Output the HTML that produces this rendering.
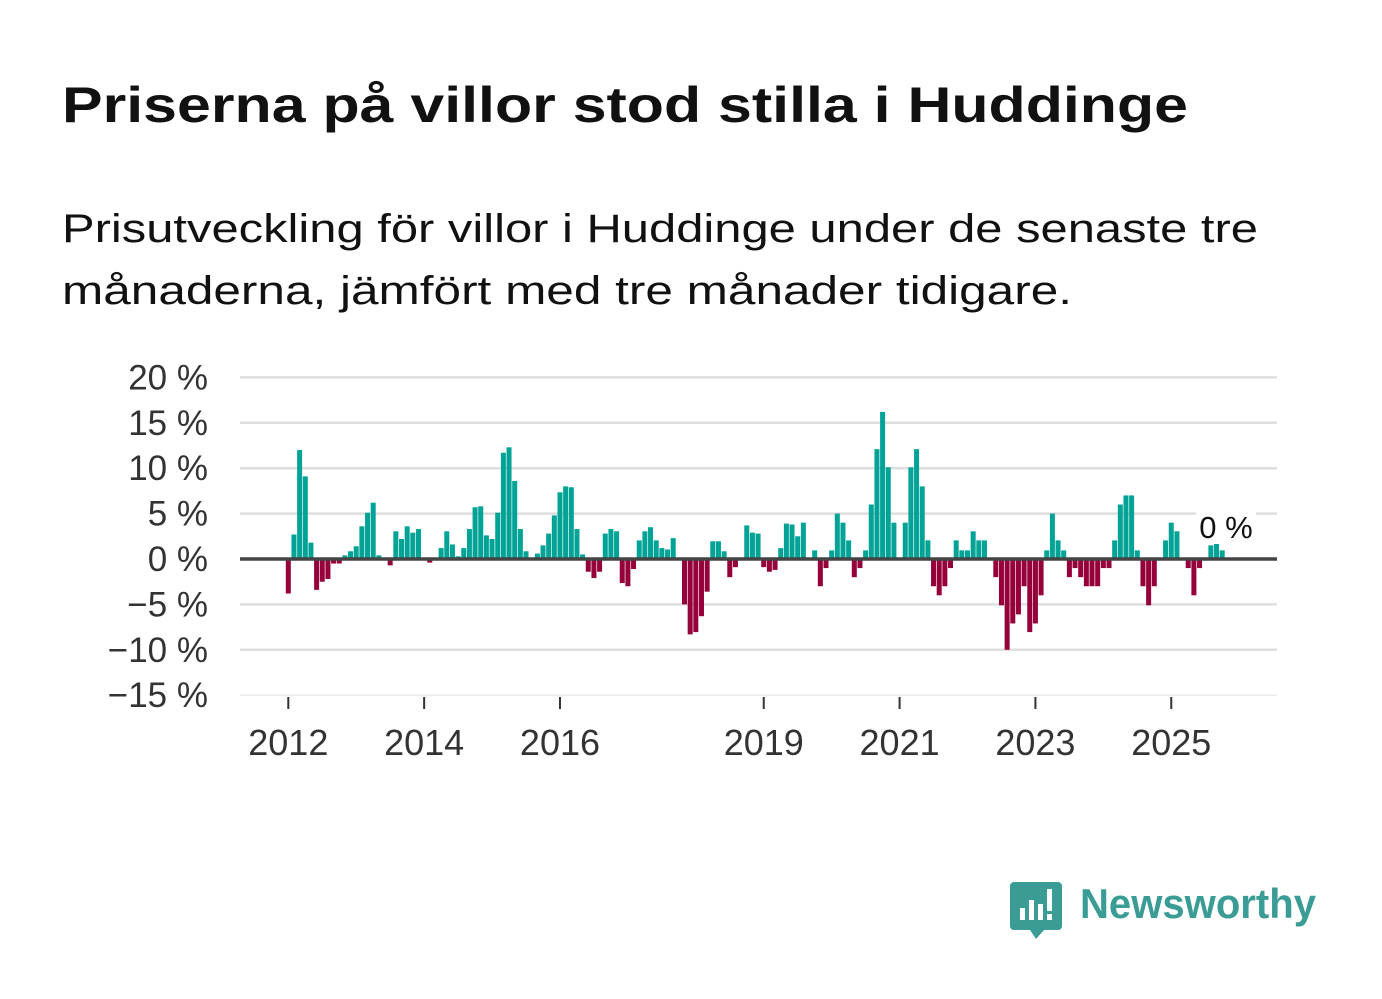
<!DOCTYPE html>
<html><head><meta charset="utf-8"><style>
html,body{margin:0;padding:0;background:#fff;width:1382px;height:999px;overflow:hidden}
svg{display:block}
text{font-family:"Liberation Sans","DejaVu Sans",sans-serif}
</style></head><body>
<svg id="chart" width="1382" height="999" viewBox="0 0 1382 999">
<text x="62" y="122" font-size="50" font-weight="bold" fill="#111" textLength="1126" lengthAdjust="spacingAndGlyphs">Priserna på villor stod stilla i Huddinge</text>
<text x="62" y="242" font-size="40" fill="#111" textLength="1196" lengthAdjust="spacingAndGlyphs">Prisutveckling för villor i Huddinge under de senaste tre</text>
<text x="62" y="304" font-size="40" fill="#111" textLength="1010" lengthAdjust="spacingAndGlyphs">månaderna, jämfört med tre månader tidigare.</text>
<g id="grid"></g>
<g id="yaxis"></g>
<g id="xaxis"></g>
<g id="bars"></g>
<g>
<rect x="1196" y="510" width="60" height="34" fill="#fff"/>
<text x="1226" y="538" font-size="31" fill="#111" text-anchor="middle">0 %</text>
</g>
<g>
<path d="M1014 882 h44 a4 4 0 0 1 4 4 v40 a4 4 0 0 1 -4 4 h-14 l-8 9 l-6 -9 h-16 a4 4 0 0 1 -4 -4 v-40 a4 4 0 0 1 4 -4z" fill="#3a9c94"/>
<rect x="1020" y="908" width="5" height="12" fill="#fff"/>
<rect x="1029" y="900" width="5" height="20" fill="#fff"/>
<rect x="1038" y="904" width="5" height="16" fill="#fff"/>
<rect x="1047" y="889" width="5" height="22" fill="#fff"/>
<rect x="1047" y="914" width="5" height="6" fill="#fff"/>
<text x="1080" y="918" font-size="42" font-weight="bold" fill="#3a9c94" textLength="236" lengthAdjust="spacingAndGlyphs">Newsworthy</text>
</g>
</svg>
<script>
const yTicks=[20,15,10,5,0,-5,-10,-15];
const yTickLabels=["20 %","15 %","10 %","5 %","0 %","\u22125 %","\u221210 %","\u221215 %"];
const xTickYears=[2012,2014,2016,2019,2021,2023,2025];
const startYear=2012;
const values=[-3.8,2.7,12,9.1,1.8,-3.4,-2.5,-2.2,-0.5,-0.5,0.4,0.85,
1.4,3.6,5.1,6.2,0.4,0,-0.7,3.05,2.2,3.6,2.9,3.3,
0,-0.4,0,1.2,3.05,1.6,0.3,1.2,3.3,5.7,5.8,2.6,
2.2,5.1,11.7,12.3,8.6,3.3,0.85,0,0.6,1.5,2.8,4.8,
7.35,8.0,7.9,3.3,0.5,-1.4,-2.1,-1.4,2.8,3.3,3.05,-2.65,
-3.0,-1.1,2.05,3.05,3.5,2.05,1.2,1.05,2.3,0,-5.0,-8.3,
-8.05,-6.3,-3.6,1.95,1.95,0.85,-2.0,-0.9,0,3.7,2.9,2.8,
-0.9,-1.4,-1.2,1.2,3.9,3.8,2.5,4.0,0,0.95,-3.0,-1.0,
0.95,5.0,4.0,2.05,-2.0,-1.0,0.95,6.0,12.1,16.2,10.1,4.0,
0,4.0,10.1,12.1,8.0,2.05,-3.0,-4.0,-3.0,-1.0,2.05,0.95,
0.95,3.05,2.05,2.05,0,-2.0,-5.1,-10.0,-7.1,-6.1,-3.0,-8.05,
-7.1,-4.0,0.95,5.0,2.05,0.95,-2.0,-1.0,-2.0,-3.0,-3.0,-3.0,
-1.0,-1.0,2.05,6.0,7.0,7.0,0.95,-3.0,-5.1,-3.0,0,2.05,
4.0,3.05,0,-1.0,-4.0,-1.0,0,1.5,1.7,0.95];
const NS="http://www.w3.org/2000/svg";
const y=v=>559-v*9.08;
const x=i=>288.3+i*5.66;
const grid=document.getElementById('grid'),ya=document.getElementById('yaxis'),xa=document.getElementById('xaxis'),bars=document.getElementById('bars');
yTicks.forEach((t,k)=>{
  if(t!==0){const l=document.createElementNS(NS,'line');
  
  
  l.setAttribute('x1',240);l.setAttribute('x2',1277);l.setAttribute('y1',y(t));l.setAttribute('y2',y(t));
  l.setAttribute('stroke',t===-15?'#ececec':'#dedede');l.setAttribute('stroke-width',t===-15?1.5:2.5);grid.appendChild(l);}
  const tx=document.createElementNS(NS,'text');
  
  
  tx.setAttribute('x',208);tx.setAttribute('y',y(t)+12);tx.setAttribute('text-anchor','end');tx.setAttribute('font-size','35');tx.setAttribute('fill','#333');
  tx.textContent=yTickLabels[k];ya.appendChild(tx);
});
xTickYears.forEach(yr=>{
  const xx=x((yr-startYear)*12);
  const l=document.createElementNS(NS,'line');
  
  
  l.setAttribute('x1',xx);l.setAttribute('x2',xx);l.setAttribute('y1',697);l.setAttribute('y2',709);l.setAttribute('stroke','#333');l.setAttribute('stroke-width',2);xa.appendChild(l);
  const tx=document.createElementNS(NS,'text');
  
  
  tx.setAttribute('x',xx);tx.setAttribute('y',755);tx.setAttribute('text-anchor','middle');tx.setAttribute('font-size','36');tx.setAttribute('fill','#333');
  tx.textContent=yr;xa.appendChild(tx);
});
values.forEach((v,i)=>{
  if(v===0)return;
  const r=document.createElementNS(NS,'rect');
  
  
  r.setAttribute('x',x(i)-2.5);r.setAttribute('width',5);
  r.setAttribute('y',Math.min(y(v),y(0)));r.setAttribute('height',Math.abs(y(v)-y(0)));
  r.setAttribute('fill',v>0?'#00a396':'#96003a');bars.appendChild(r);
});
const z=document.createElementNS(NS,'line');


z.setAttribute('x1',240);z.setAttribute('x2',1277);z.setAttribute('y1',y(0));z.setAttribute('y2',y(0));z.setAttribute('stroke','#444');z.setAttribute('stroke-width',3.5);
bars.appendChild(z);
</script>
</body></html>
